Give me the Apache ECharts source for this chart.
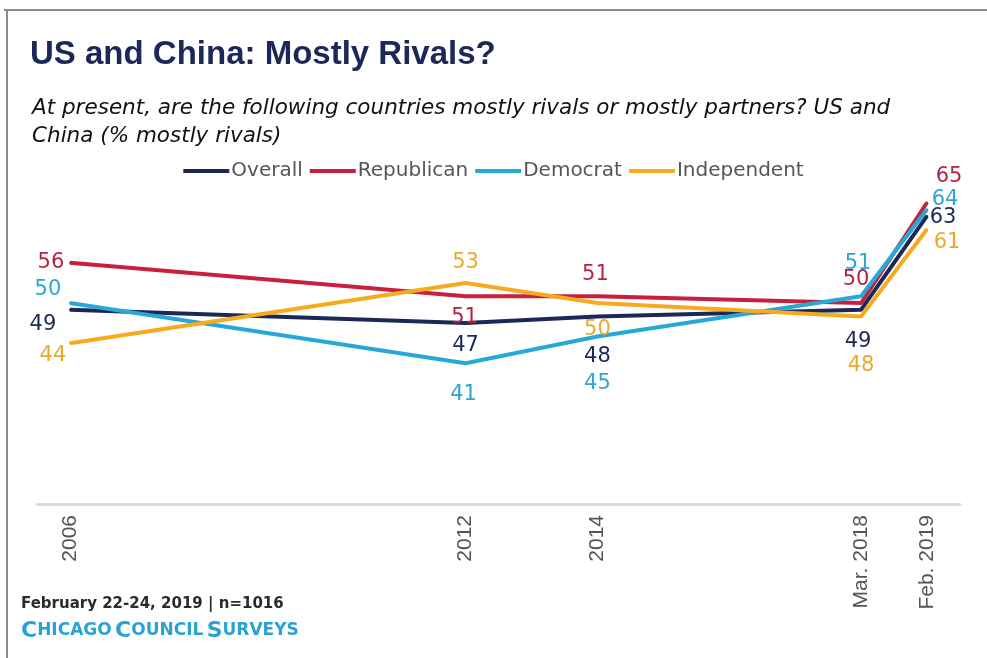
<!DOCTYPE html>
<html>
<head>
<meta charset="utf-8">
<script src="https://cdn.jsdelivr.net/npm/echarts@6/dist/echarts.min.js"></script>
<style>
  html, body { margin: 0; padding: 0; background: #fff; }
  #chart { width: 987px; height: 658px; }
</style>
</head>
<body>
<div id="chart"></div>
<script>
// survey waves (x = year on a value axis) and their tick labels
const periodX = [2006, 2012, 2014, 2018, 2019];
const periodLabels = ['2006', '2012', '2014', 'Mar. 2018', 'Feb. 2019'];

// % saying "mostly rivals"
const overall = [49, 47, 48, 49, 63];
const republican = [56, 51, 51, 50, 65];
const democrat = [50, 41, 45, 51, 64];
const independent = [44, 53, 50, 48, 61];

const seriesNames = ['Overall', 'Republican', 'Democrat', 'Independent'];
const seriesValues = [overall, republican, democrat, independent];
const lineColors = ['#1c2857', '#c8203c', '#27a9d8', '#f6ab1e'];
const labelColors = ['#1c2857', '#b8233f', '#2aa7d6', '#e9a92b'];

// where each value label sits relative to its point (px)
const labelOffsets = [
  [[-27, 15], [0, 22], [0, 40], [-3, 32], [16, 2]],
  [[-19, 0], [-1, 21], [-2, -22], [-5, -23], [22, -26]],
  [[-22, -13], [-2, 31], [0, 47], [-3, -33], [18, -10]],
  [[-17, 12], [0, -20], [0, 27], [0, 49], [20, 13]]
];

const chart = echarts.init(document.getElementById('chart'));

const series = seriesNames.map((name, i) => ({
  name: name,
  type: 'line',
  symbol: 'circle',
  symbolSize: 2,
  showSymbol: true,
  lineStyle: { color: lineColors[i], width: 4 },
  itemStyle: { color: lineColors[i] },
  emphasis: { disabled: true },
  data: seriesValues[i].map((v, j) => ({
    value: [periodX[j], v],
    label: { offset: labelOffsets[i][j] }
  })),
  label: {
    show: true,
    position: 'inside',
    align: 'center',
    verticalAlign: 'middle',
    color: labelColors[i],
    fontFamily: 'DejaVu Sans',
    fontSize: 21
  }
}));

const option = {
  animation: false,
  backgroundColor: '#fff',
  title: [
    {
      text: 'US and China: Mostly Rivals?',
      left: 25,
      top: 33,
      textStyle: { fontFamily: 'Liberation Sans', fontWeight: 'bold', fontSize: 33, color: '#1c2857' }
    },
    {
      text: 'At present, are the following countries mostly rivals or mostly partners? US and\nChina (% mostly rivals)',
      left: 27,
      top: 89,
      textStyle: { fontFamily: 'DejaVu Sans', fontStyle: 'italic', fontWeight: 'normal', fontSize: 21.5, color: '#111', lineHeight: 28 }
    }
  ],
  legend: {
    data: seriesNames,
    top: 156,
    left: 'center',
    icon: 'rect',
    itemWidth: 46,
    itemHeight: 4,
    itemGap: 7,
    textStyle: { fontFamily: 'DejaVu Sans', fontSize: 20, color: '#555', padding: [0, 0, 0, -3] }
  },
  grid: { left: 37, right: 27, top: 169, height: 335 },
  xAxis: {
    type: 'value',
    min: 2005.5,
    max: 2019.5,
    splitLine: { show: false },
    axisTick: { show: false },
    axisLine: { show: true, lineStyle: { color: '#dcdcdc', width: 3 } },
    axisLabel: {
      customValues: periodX,
      rotate: 90,
      margin: 11,
      fontFamily: 'Liberation Sans',
      fontSize: 21,
      color: '#555',
      formatter: (v) => periodLabels[periodX.indexOf(v)]
    }
  },
  yAxis: {
    type: 'value',
    min: 20,
    max: 70,
    show: false,
    splitLine: { show: false }
  },
  graphic: [
    { type: 'line', shape: { x1: 4, y1: 10, x2: 987, y2: 10 }, style: { stroke: '#8a8a8a', lineWidth: 2 } },
    { type: 'line', shape: { x1: 7, y1: 10, x2: 7, y2: 658 }, style: { stroke: '#8a8a8a', lineWidth: 2 } },
    {
      type: 'text', left: 21, top: 597,
      style: { text: 'February 22-24, 2019 | n=1016', fontFamily: 'DejaVu Sans', fontSize: 15, fontWeight: 'bold', fill: '#2b2b2b' }
    },
    {
      type: 'text', left: 21, top: 620,
      style: {
        text: '{b|C}{s|HICAGO} {b|C}{s|OUNCIL} {b|S}{s|URVEYS}',
        rich: {
          b: { fontFamily: 'DejaVu Sans', fontSize: 22, fontWeight: 'bold', fill: '#2aa3d3', color: '#2aa3d3' },
          s: { fontFamily: 'DejaVu Sans', fontSize: 17, fontWeight: 'bold', fill: '#2aa3d3', color: '#2aa3d3' }
        }
      }
    }
  ],
  series: series
};

chart.setOption(option);
</script>
</body>
</html>
